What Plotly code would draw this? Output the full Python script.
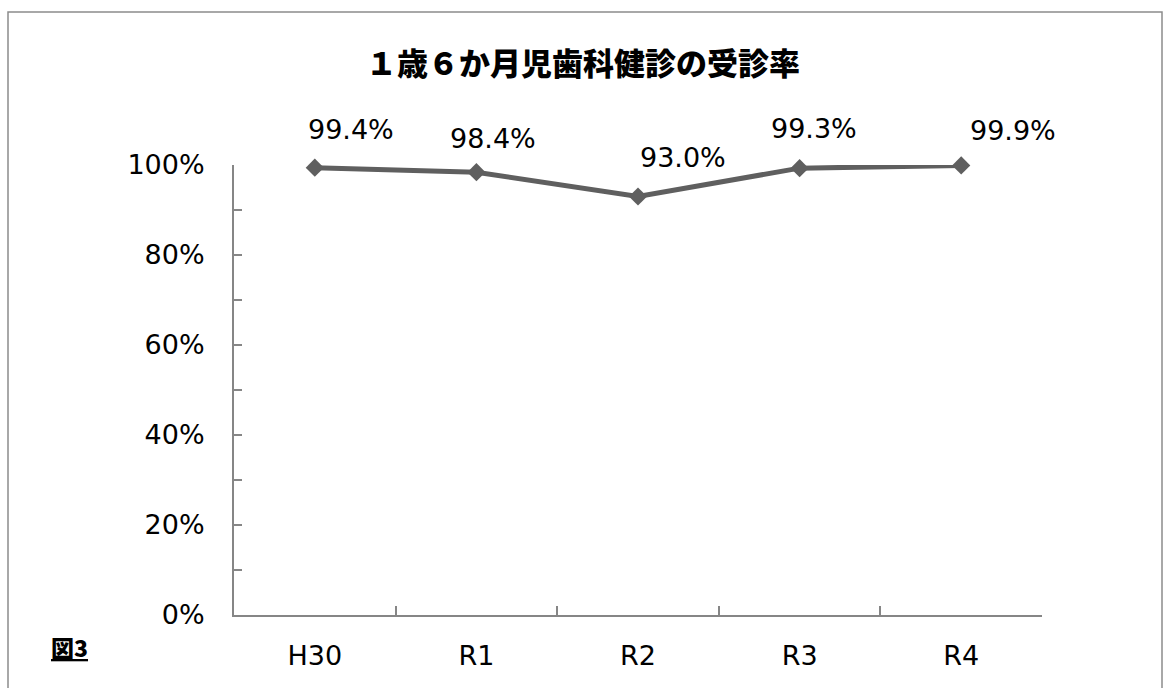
import plotly.graph_objects as go

categories = ["H30", "R1", "R2", "R3", "R4"]
rates = [0.994, 0.984, 0.930, 0.993, 0.999]
rate_labels = ["99.4%", "98.4%", "93.0%", "99.3%", "99.9%"]
y_ticks = [0, 0.2, 0.4, 0.6, 0.8, 1.0]
y_tick_labels = ["0%", "20%", "40%", "60%", "80%", "100%"]
title_text = "１歳６か月児歯科健診の受診率"
figure_tag = "図3"

# label offsets (styling only)
label_xshift = [36, 17, 45, 14, 52]
label_yshift = [38, 34, 39, 40, 35]

W, H = 1170, 688
ML, MR, MT, MB = 234, 128, 165, 73
pw = W - ML - MR
ph = H - MT - MB

LINE_C = "#5f5f5f"
AXIS_C = "#868686"
TXT_FONT = "'DejaVu Sans', Verdana, sans-serif"
JP_FONT = "'Noto Sans CJK JP', sans-serif"

fig = go.Figure()
fig.add_trace(go.Scatter(
    x=categories, y=rates, mode="lines+markers",
    line=dict(color=LINE_C, width=5),
    marker=dict(symbol="diamond", size=14, color=LINE_C),
    cliponaxis=False, hoverinfo="skip", showlegend=False,
))

for i, (c, v, t) in enumerate(zip(categories, rates, rate_labels)):
    fig.add_annotation(x=c, y=v, text=t, showarrow=False,
                       xshift=label_xshift[i], yshift=label_yshift[i],
                       font=dict(family=TXT_FONT, size=27, color="#000000"))

fig.add_annotation(xref="paper", yref="paper", x=0.5 + (583 - (ML + pw / 2)) / pw,
                   y=(H - MB - 61) / ph, text=title_text,
                   showarrow=False, xanchor="center", yanchor="middle",
                   font=dict(family=JP_FONT, size=31, color="#000000", weight=900))

fig.add_annotation(xref="paper", yref="paper", x=(49 - ML) / pw,
                   y=(H - MB - 647) / ph, text="<u>" + figure_tag + "</u>",
                   showarrow=False, xanchor="left", yanchor="middle",
                   font=dict(family=JP_FONT, size=23, color="#000000", weight=900))

# outer chart border
fig.add_shape(type="rect", xref="paper", yref="paper",
              x0=(8 - ML) / pw, x1=(1162 - ML) / pw,
              y0=(H - MB - 700) / ph, y1=(H - MB - 12) / ph,
              line=dict(color="#8c8c8c", width=1.5), fillcolor="rgba(0,0,0,0)",
              layer="below")

fig.update_layout(
    width=W, height=H,
    margin=dict(l=ML, r=MR, t=MT, b=MB, pad=0),
    paper_bgcolor="white", plot_bgcolor="white",
    showlegend=False,
    xaxis=dict(
        type="category", range=[-0.5, 4.5],
        showgrid=False, zeroline=False,
        showline=True, linecolor=AXIS_C, linewidth=2,
        ticks="inside", tickson="boundaries", ticklen=9, tickcolor=AXIS_C, tickwidth=1.5,
        tickfont=dict(family=TXT_FONT, size=27, color="#000000"),
        ticklabelstandoff=16,
    ),
    yaxis=dict(
        range=[0, 1], tickvals=y_ticks, ticktext=y_tick_labels,
        showgrid=False, zeroline=False,
        showline=True, linecolor=AXIS_C, linewidth=2,
        ticks="inside", ticklen=8, tickcolor=AXIS_C, tickwidth=1.5,
        minor=dict(dtick=0.1, ticks="inside", ticklen=8, tickcolor=AXIS_C, tickwidth=1.5, showgrid=False),
        tickfont=dict(family=TXT_FONT, size=27, color="#000000"),
        ticklabelstandoff=22,
    ),
)

fig.write_html("out.html")
